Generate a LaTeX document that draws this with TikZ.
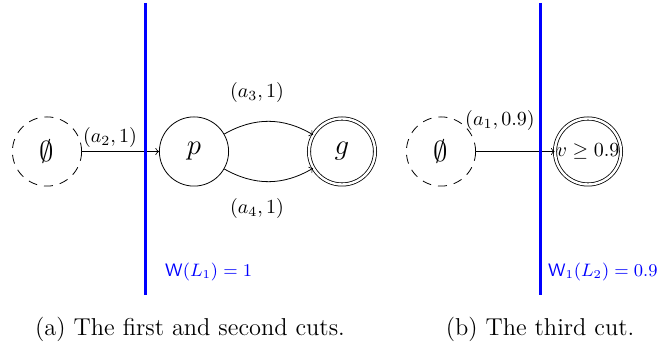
\documentclass[tikz,border=0pt]{standalone}
\usetikzlibrary{arrows}
\begin{document}
\begin{tikzpicture}[x=0.5pt,y=-0.5pt,
  statenode/.style={circle,draw,minimum size=70*0.5pt-0.4pt,inner sep=0pt,font=\fontsize{14.5}{16}\selectfont},
  emptystate/.style={statenode,dash pattern=on 4.5pt off 3.5pt},
  accstate/.style={statenode,double,double distance=1.2pt,minimum size=70*0.5pt-2pt},
  cutline/.style={blue,line width=1.5pt},
  cutlabel/.style={blue,font=\fontsize{9}{11}\selectfont,anchor=west},
  elabel/.style={font=\fontsize{10}{12}\selectfont},
  captext/.style={font=\fontsize{12.2}{14}\selectfont},
  conn/.style={->,>=to}]
\useasboundingbox (0,0) rectangle (665,347);
% left
\node[emptystate] (e1) at (47,151.5) {$\emptyset$};
\node[statenode] (p) at (194,151.5) {$p$};
\node[accstate] (g) at (342,151.5) {$g$};
\draw[conn] (e1) -- (p);
\node[elabel] (l2) at (110,138) {$(a_2,1)$};
\draw[conn] (p) to[bend left=30] (g);
\draw[conn] (p) to[bend right=30] (g);
\node[elabel] (l3) at (257,93) {$(a_3,1)$};
\node[elabel] (l4) at (257,209) {$(a_4,1)$};
\coordinate (t1) at (145,3);
\coordinate (b1) at (145,295);
\draw[cutline] (t1) -- (b1);
\node[cutlabel] (w1) at (158,272) {$\mathsf{W}(L_1)=1$};
\node[captext] (c1) at (190,329) {(a)\ The first and second cuts.};
% right
\node[emptystate] (e2) at (441,151.5) {$\emptyset$};
\node[accstate,font=\fontsize{10}{12}\selectfont] (v) at (588,151.5) {$v\geq 0.9$};
\draw[conn] (e2) -- (v);
\node[elabel] (l1) at (500,121) {$(a_1,0.9)$};
\coordinate (t2) at (540,3);
\coordinate (b2) at (540,295);
\draw[cutline] (t2) -- (b2);
\node[cutlabel] (w2) at (541,272) {$\mathsf{W}_1(L_2)=0.9$};
\node[captext] (c2) at (540,329) {(b)\ The third cut.};
\end{tikzpicture}
\end{document}
